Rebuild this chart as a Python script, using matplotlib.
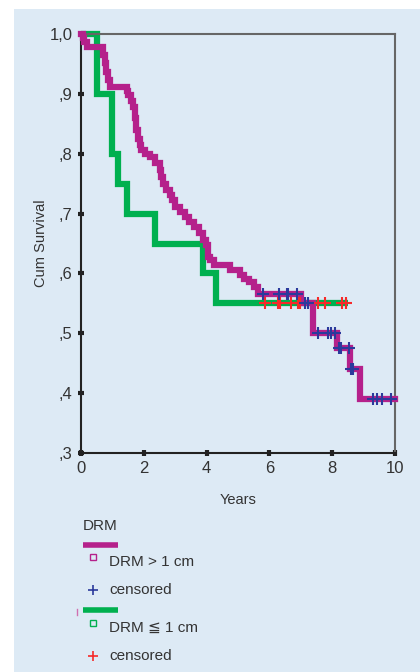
import numpy as np
import matplotlib.pyplot as plt
from matplotlib.patches import Rectangle

# Kaplan-Meier steps (years, survival after the drop)
big_times = [0.0, 0.05, 0.1, 0.2, 0.7, 0.75, 0.8, 0.85, 0.92, 1.45, 1.5, 1.6, 1.65,
             1.72, 1.75, 1.8, 1.87, 1.92, 2.05, 2.2, 2.35, 2.5, 2.56, 2.6, 2.72,
             2.85, 2.9, 3.0, 3.15, 3.3, 3.45, 3.6, 3.75, 3.9, 3.98, 4.03, 4.05,
             4.1, 4.25, 4.75, 5.05, 5.2, 5.35, 5.5, 5.65, 7.0, 7.4, 8.15, 8.57,
             8.9, 10.0]
big_surv = [1.0, 0.993, 0.986, 0.979, 0.965, 0.951, 0.937, 0.923, 0.912, 0.905,
            0.898, 0.888, 0.878, 0.86, 0.84, 0.825, 0.814, 0.806, 0.800, 0.795,
            0.784, 0.773, 0.761, 0.750, 0.739, 0.731, 0.722, 0.711, 0.703, 0.695,
            0.686, 0.678, 0.667, 0.656, 0.647, 0.639, 0.628, 0.622, 0.614, 0.605,
            0.597, 0.591, 0.586, 0.578, 0.566, 0.55, 0.50, 0.475, 0.44, 0.391, 0.391]
big_cens_t = [5.79, 6.32, 6.55, 6.6, 6.89, 7.13, 7.23, 7.56, 7.88, 7.95, 8.09,
              8.21, 8.25, 8.28, 8.54, 8.6, 8.66, 9.29, 9.42, 9.58, 9.86]
big_cens_s = [0.566, 0.566, 0.566, 0.566, 0.566, 0.55, 0.55, 0.50, 0.50, 0.50, 0.50,
              0.475, 0.475, 0.475, 0.475, 0.44, 0.44, 0.391, 0.391, 0.391, 0.391]

small_times = [0.0, 0.51, 1.0, 1.18, 1.46, 2.36, 3.88, 4.29, 8.5]
small_surv = [1.0, 0.90, 0.80, 0.75, 0.70, 0.65, 0.60, 0.55, 0.55]
small_cens_t = [5.86, 6.26, 6.33, 6.70, 6.91, 6.99, 7.56, 7.77, 8.32, 8.43]
small_cens_s = [0.55] * 10

y_ticks = [0.3, 0.4, 0.5, 0.6, 0.7, 0.8, 0.9, 1.0]
y_labels = [',3', ',4', ',5', ',6', ',7', ',8', ',9', '1,0']
x_ticks = [0, 2, 4, 6, 8, 10]

legend_title = 'DRM'
legend_labels = ['DRM > 1 cm', 'censored', 'DRM \u2266 1 cm', 'censored']

MAGENTA = '#b5218b'
GREEN = '#00b04f'
BLUE = '#2b3a9c'
RED = '#f62a2a'
BG = '#ddeaf5'
TXT = '#333333'

plt.rcParams['font.family'] = ['Liberation Sans', 'DejaVu Sans']

W, H = 420, 672
fig = plt.figure(figsize=(W / 100, H / 100), dpi=100)
fig.patch.set_facecolor('white')

# pixel-coordinate overlay for background and legend
ov = fig.add_axes([0, 0, 1, 1], zorder=0)
ov.set_xlim(0, W)
ov.set_ylim(H, 0)
ov.axis('off')
ov.add_patch(Rectangle((14, 9), W - 14, H - 9, facecolor=BG, edgecolor='none'))

ax = fig.add_axes([81 / W, 1 - 453 / H, (395 - 81) / W, (453 - 34) / H], zorder=1)
ax.set_facecolor('none')

ax.step(big_times, big_surv, where='post', color=MAGENTA, lw=4.5,
        solid_capstyle='projecting', solid_joinstyle='miter', clip_on=False, zorder=3)
ax.step(small_times, small_surv, where='post', color=GREEN, lw=4.5,
        solid_capstyle='butt', solid_joinstyle='miter', clip_on=False, zorder=2)
ax.plot(small_cens_t, small_cens_s, ls='none', marker='+', ms=8, mew=1.5,
        color=RED, zorder=4, clip_on=False)
ax.plot(big_cens_t, big_cens_s, ls='none', marker='+', ms=8, mew=1.5,
        color=BLUE, zorder=5, clip_on=False)

ax.set_xlim(0, 10)
ax.set_ylim(0.3, 1.0)
ax.set_xticks(x_ticks)
ax.set_yticks(y_ticks)
ax.set_yticklabels(y_labels)
ax.tick_params(direction='inout', length=4, width=3, color='#222222',
               labelsize=12, labelcolor=TXT, pad=4)
for s in ['left', 'bottom']:
    ax.spines[s].set_color('#222222')
    ax.spines[s].set_linewidth(1.5)
for s in ['top', 'right']:
    ax.spines[s].set_color('#666666')
    ax.spines[s].set_linewidth(1.5)

ax.set_xlabel('Years', fontsize=10.5, color=TXT, labelpad=12)
ax.set_ylabel('Cum Survival', fontsize=10.5, color=TXT, labelpad=1)

# legend
ov.text(83, 526, legend_title, fontsize=11, color=TXT, va='center', ha='left')
ov.plot([83, 118], [544.5, 544.5], color=MAGENTA, lw=4, solid_capstyle='butt')
ov.plot([93], [557], ls='none', marker='s', ms=4, mfc='none', mec=MAGENTA, mew=1)
ov.text(109, 562, legend_labels[0], fontsize=11, color=TXT, va='center', ha='left')
ov.plot([93], [590], ls='none', marker='+', ms=7, mew=1.2, color=BLUE)
ov.text(109, 590, legend_labels[1], fontsize=11, color=TXT, va='center', ha='left')
ov.plot([77, 77], [609, 615], color='#d070b0', lw=1)
ov.plot([83, 118], [610, 610], color=GREEN, lw=4, solid_capstyle='butt')
ov.plot([93], [623], ls='none', marker='s', ms=4, mfc='none', mec=GREEN, mew=1)
ov.text(109, 628, legend_labels[2], fontsize=11, color=TXT, va='center', ha='left')
ov.plot([93], [656], ls='none', marker='+', ms=7, mew=1.2, color=RED)
ov.text(109, 656, legend_labels[3], fontsize=11, color=TXT, va='center', ha='left')

fig.savefig('out.png', dpi=100, facecolor=fig.get_facecolor())
